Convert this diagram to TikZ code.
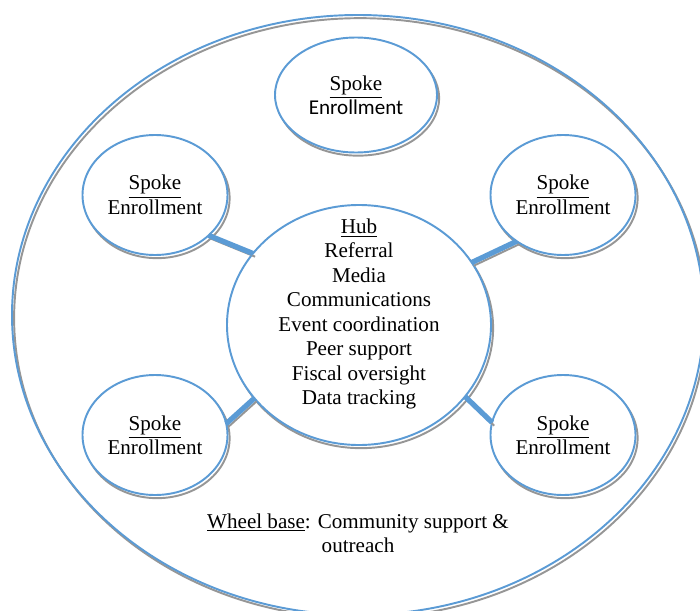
\documentclass[tikz,border=0pt]{standalone}
\usepackage{fontspec}
\setmainfont{Liberation Serif}
\newfontfamily\calibri{Carlito}
\usetikzlibrary{shapes.geometric}
\definecolor{wheelblue}{RGB}{91,155,213}
\definecolor{rimgray}{RGB}{150,150,150}
\tikzset{every path/.style={line width=1.1pt},
  rimshadow/.style={preaction={draw=rimgray, transform canvas={shift={(1.2pt,-1.8pt)}}}},
  wheel/.style={draw=wheelblue, rimshadow},
  spoke/.style={ellipse, draw=wheelblue, fill=white, rimshadow, align=center, inner sep=0pt, outer sep=0pt,
    minimum width=2.9cm, minimum height=2.4cm, font=\fontsize{12}{13.9}\selectfont},
  words/.style={align=center, font=\fontsize{12}{13.9}\selectfont},
  bar/.style={draw=wheelblue, line width=3pt, rimshadow}}

\begin{document}
\begin{tikzpicture}
  \useasboundingbox (0,0) rectangle (14,12.2);

  \draw[wheel] (7.16,5.9) ellipse (6.92 and 6.0);

  \node[spoke, minimum width=5.28cm, minimum height=4.8cm] (h) at (7.18,5.70) {};
  \node[words] (ht) at ([yshift=0.22cm]h.center)
    {\underline{Hub}\\Referral\\Media\\Communications\\Event coordination\\Peer support\\Fiscal oversight\\Data tracking};

  \node[spoke, minimum width=3.24cm, minimum height=2.3cm] (n) at (7.12,10.3) {\underline{Spoke}\\{\calibri Enrollment}};
  \node[spoke] (nw) at ( 3.10,8.30) {\underline{Spoke}\\Enrollment};
  \node[spoke] (ne) at (11.26,8.30) {\underline{Spoke}\\Enrollment};
  \node[spoke] (sw) at ( 3.10,3.50) {\underline{Spoke}\\Enrollment};
  \node[spoke] (se) at (11.26,3.50) {\underline{Spoke}\\Enrollment};

  \draw[bar] (h.146) -- (nw.-37);
  \draw[bar] (h.29)  -- (ne.225);
  \draw[bar] (h.215) -- (sw.9);
  \draw[bar] (h.-34) -- (se.170);

  \node[words] (base) at (7.16,1.54) {\underline{Wheel base}: Community support \&\\outreach};
\end{tikzpicture}
\end{document}
